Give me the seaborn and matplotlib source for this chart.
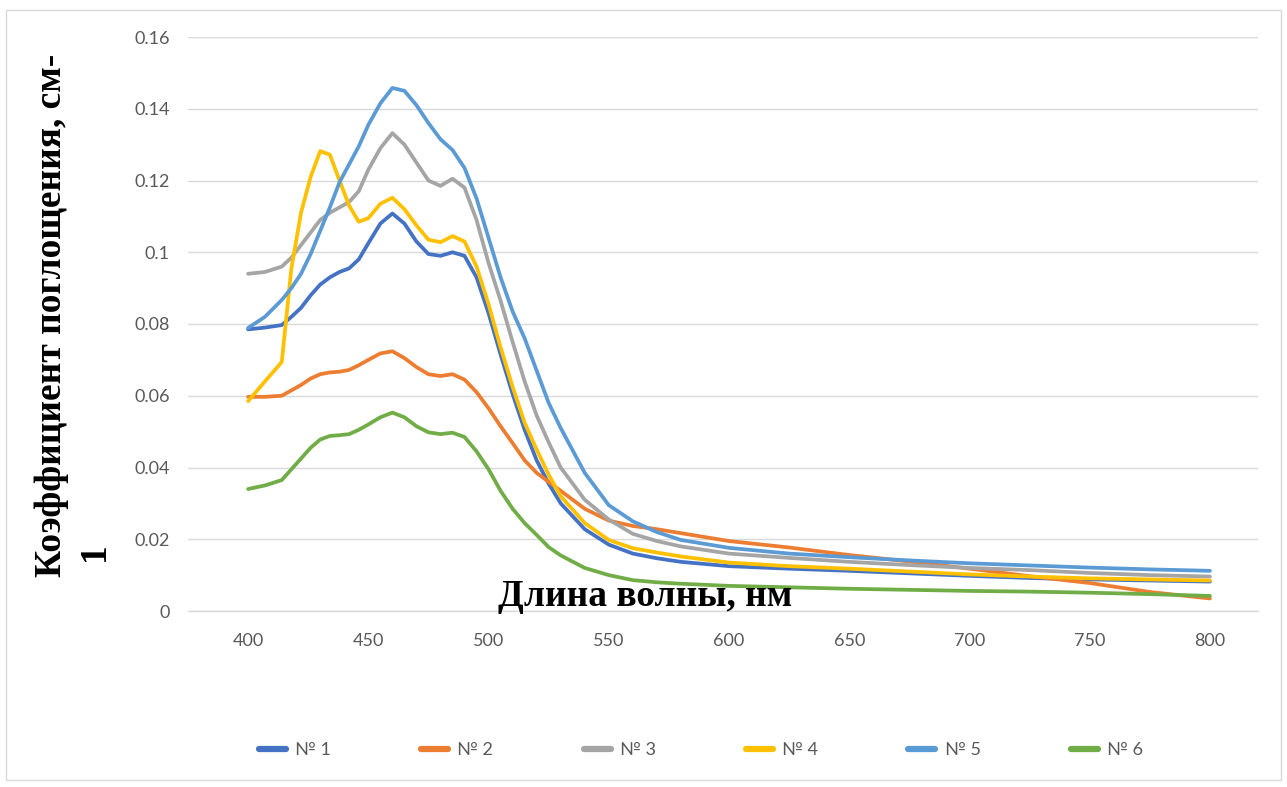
import numpy as np
import pandas as pd
import matplotlib
matplotlib.use("Agg")
import matplotlib.pyplot as plt
from matplotlib.patches import Rectangle
import seaborn as sns

# Wavelength grid, nm
wavelength = [400, 407, 414, 418, 422, 426, 430, 434, 438, 442, 446, 450, 455, 460,
              465, 470, 475, 480, 485, 490, 495, 500, 505, 510, 515, 520, 525, 530,
              540, 550, 560, 570, 580, 600, 625, 650, 675, 700, 725, 750, 775, 800]

# Absorption coefficient, cm-1, for each sample
s1 = [0.0785, 0.0790, 0.0797, 0.0820, 0.0845, 0.0880, 0.0910, 0.0930, 0.0945, 0.0955,
      0.0980, 0.1025, 0.1080, 0.1108, 0.1080, 0.1030, 0.0995, 0.0990, 0.1000, 0.0990,
      0.0930, 0.0830, 0.0715, 0.0605, 0.0505, 0.0420, 0.0355, 0.0300, 0.0228, 0.0185,
      0.0160, 0.0147, 0.0137, 0.0125, 0.0118, 0.0112, 0.0105, 0.0098, 0.0092, 0.0088,
      0.0085, 0.0082]
s2 = [0.0597, 0.0597, 0.0600, 0.0615, 0.0630, 0.0648, 0.0660, 0.0665, 0.0667, 0.0672,
      0.0685, 0.0700, 0.0718, 0.0724, 0.0705, 0.0680, 0.0660, 0.0655, 0.0660, 0.0645,
      0.0610, 0.0565, 0.0515, 0.0468, 0.0420, 0.0385, 0.0360, 0.0335, 0.0285, 0.0252,
      0.0237, 0.0228, 0.0217, 0.0195, 0.0177, 0.0156, 0.0138, 0.0118, 0.0097, 0.0078,
      0.0053, 0.0035]
s3 = [0.0940, 0.0945, 0.0960, 0.0985, 0.1020, 0.1055, 0.1090, 0.1110, 0.1125, 0.1140,
      0.1170, 0.1230, 0.1290, 0.1332, 0.1300, 0.1250, 0.1200, 0.1185, 0.1205, 0.1180,
      0.1090, 0.0970, 0.0865, 0.0750, 0.0640, 0.0545, 0.0470, 0.0400, 0.0310, 0.0255,
      0.0215, 0.0195, 0.0180, 0.0160, 0.0148, 0.0137, 0.0128, 0.0120, 0.0114, 0.0106,
      0.0100, 0.0096]
s4 = [0.0585, 0.0640, 0.0694, 0.0955, 0.1110, 0.1210, 0.1282, 0.1272, 0.1200, 0.1130,
      0.1085, 0.1095, 0.1135, 0.1152, 0.1120, 0.1075, 0.1035, 0.1028, 0.1045, 0.1030,
      0.0960, 0.0855, 0.0735, 0.0625, 0.0525, 0.0450, 0.0380, 0.0320, 0.0245, 0.0198,
      0.0175, 0.0163, 0.0152, 0.0135, 0.0125, 0.0118, 0.0110, 0.0102, 0.0096, 0.0091,
      0.0088, 0.0085]
s5 = [0.0789, 0.0820, 0.0867, 0.0900, 0.0940, 0.0995, 0.1060, 0.1125, 0.1195, 0.1245,
      0.1295, 0.1355, 0.1415, 0.1458, 0.1450, 0.1410, 0.1360, 0.1315, 0.1285, 0.1235,
      0.1150, 0.1040, 0.0930, 0.0835, 0.0760, 0.0670, 0.0580, 0.0510, 0.0385, 0.0295,
      0.0250, 0.0220, 0.0198, 0.0176, 0.0160, 0.0150, 0.0141, 0.0133, 0.0127, 0.0121,
      0.0116, 0.0112]
s6 = [0.0340, 0.0350, 0.0365, 0.0395, 0.0425, 0.0455, 0.0478, 0.0488, 0.0490, 0.0493,
      0.0505, 0.0520, 0.0540, 0.0553, 0.0540, 0.0515, 0.0498, 0.0493, 0.0497, 0.0485,
      0.0445, 0.0395, 0.0335, 0.0285, 0.0245, 0.0212, 0.0178, 0.0155, 0.0120, 0.0100,
      0.0086, 0.0080, 0.0076, 0.0070, 0.0066, 0.0062, 0.0059, 0.0056, 0.0054, 0.0051,
      0.0047, 0.0042]

series_names = ["№ 1", "№ 2", "№ 3", "№ 4", "№ 5", "№ 6"]
series_values = [s1, s2, s3, s4, s5, s6]
colors = ["#4472C4", "#ED7D31", "#A5A5A5", "#FFC000", "#5B9BD5", "#70AD47"]

x_ticks = [400, 450, 500, 550, 600, 650, 700, 750, 800]
y_ticks = [0, 0.02, 0.04, 0.06, 0.08, 0.1, 0.12, 0.14, 0.16]
y_tick_labels = ["0", "0.02", "0.04", "0.06", "0.08", "0.1", "0.12", "0.14", "0.16"]

df = pd.concat(
    [pd.DataFrame({"wl": wavelength, "k": v, "sample": n})
     for n, v in zip(series_names, series_values)],
    ignore_index=True,
)

sns.set_theme(style="white")
plt.rcParams["font.family"] = ["Lato", "DejaVu Sans"]

fig = plt.figure(figsize=(12.87, 7.87), dpi=100)
ax = fig.add_axes([188 / 1287, 1 - 611 / 787, (1258 - 188) / 1287, (611 - 37) / 787])

sns.lineplot(data=df, x="wl", y="k", hue="sample", palette=colors,
             estimator=None, sort=False, linewidth=2.7, ax=ax, legend=False)
for ln in ax.get_lines():
    ln.set_solid_joinstyle("round")
    ln.set_solid_capstyle("round")

ax.set_xlim(375, 820)
ax.set_ylim(0, 0.16)
ax.set_xticks(x_ticks)
ax.set_yticks(y_ticks)
ax.set_yticklabels(y_tick_labels)
ax.yaxis.grid(True, color="#d9d9d9", linewidth=1.0)
ax.xaxis.grid(False)
ax.set_axisbelow(True)
for side in ["left", "right", "top"]:
    ax.spines[side].set_visible(False)
ax.spines["bottom"].set_color("#d9d9d9")
ax.spines["bottom"].set_linewidth(1.0)
ax.tick_params(axis="both", length=0, labelsize=13, labelcolor="#595959")
ax.tick_params(axis="y", pad=13)
ax.tick_params(axis="x", pad=16)
ax.set_xlabel("")
ax.set_ylabel("")

# Axis titles
title_font = dict(family="Liberation Serif", weight="bold", size=27, color="black")
fig.text(645 / 1287, 1 - 596 / 787, "Длина волны, нм", ha="center", va="center",
         **title_font)
fig.text(52 / 1287, 1 - 315 / 787, "Коэффициент поглощения, см-", rotation=90,
         ha="center", va="center", **title_font)
fig.text(95 / 1287, 1 - 552 / 787, "1", rotation=90,
         ha="center", va="center", **title_font)

# Legend
handles = [plt.Line2D([0], [0], color=c, linewidth=4.5) for c in colors]
fig.legend(handles, series_names, loc="center", ncol=6,
           bbox_to_anchor=(701 / 1287, 1 - 750 / 787), frameon=False,
           fontsize=13, labelcolor="#595959", handlelength=1.5,
           handletextpad=0.5, columnspacing=5.0)

# Chart border
fig.patches.append(Rectangle((6 / 1287, 1 - 780 / 787), (1281 - 6) / 1287,
                             (780 - 10) / 787, transform=fig.transFigure,
                             fill=False, edgecolor="#d9d9d9", linewidth=1.0))

fig.savefig("out.png", dpi=100, facecolor="white")
